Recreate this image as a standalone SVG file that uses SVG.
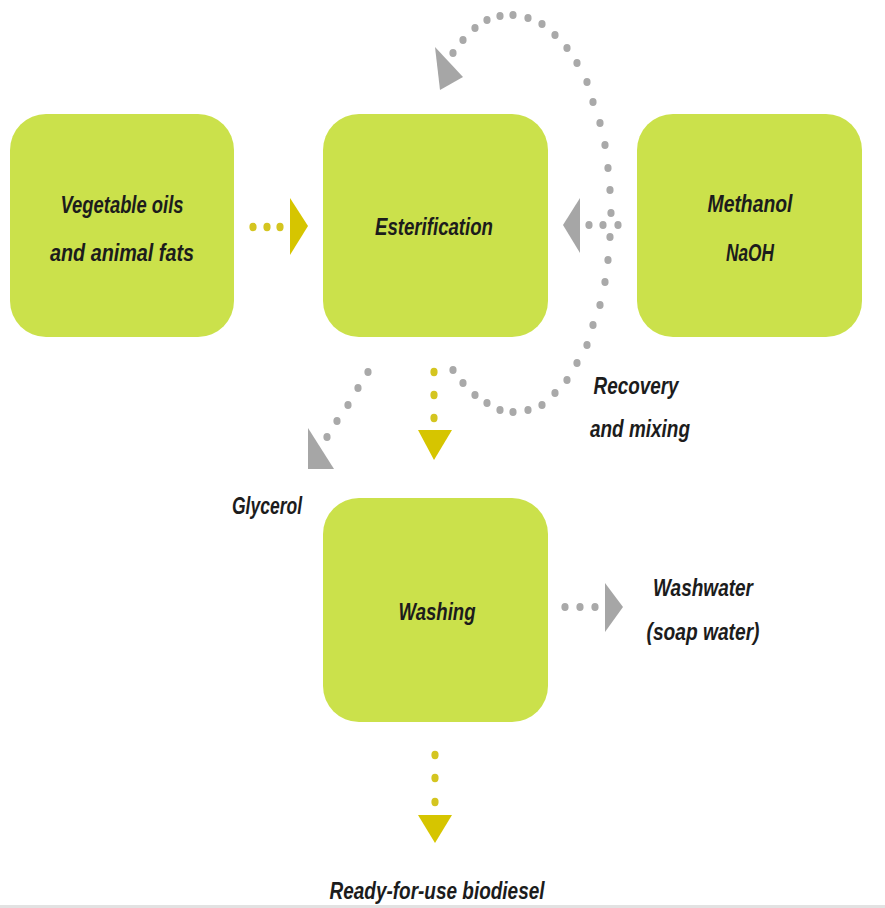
<svg xmlns="http://www.w3.org/2000/svg" width="885" height="908" viewBox="0 0 885 908">
  <style>
    .box { fill: #cbe14b; }
    .lbl { font-family: "Liberation Sans", Arial, sans-serif; font-style: italic; font-weight: bold; font-size: 24px; fill: #1c1c1c; text-anchor: middle; }
    .dots { fill: none; stroke: none; }
    .gy { marker-start: url(#dotG); marker-mid: url(#dotG); marker-end: url(#dotG); }
    .yl { marker-start: url(#dotY); marker-mid: url(#dotY); marker-end: url(#dotY); }
    .headY { fill: #d6c500; }
    .headG { fill: #a6a6a6; }
  </style>
  <defs>
    <marker id="dotG" markerUnits="userSpaceOnUse" markerWidth="10" markerHeight="10" refX="5" refY="5" overflow="visible">
      <ellipse cx="5" cy="5" rx="3.6" ry="4" fill="#a9a9a9"/>
    </marker>
    <marker id="dotY" markerUnits="userSpaceOnUse" markerWidth="10" markerHeight="10" refX="5" refY="5" overflow="visible">
      <ellipse cx="5" cy="5" rx="3.6" ry="4.2" fill="#d4c520"/>
    </marker>
  </defs>
  <rect width="885" height="908" fill="#ffffff"/>

  <g id="connectors">
    <!-- oils -> esterification -->
    <path class="dots yl" d="M253 227 L267 227 L280 227"/>
    <polygon class="headY" points="290,198 308,226 290,255"/>
    <!-- methanol -> esterification -->
    <path class="dots gy" d="M589 225 L603 225 L618 225"/>
    <polygon class="headG" points="580,198 563,225 580,253"/>
    <!-- recovery and mixing loop -->
    <path class="dots gy" d="M453 370 L463 383 L475 395 L487 403 L500 410 L513 412 L528 410 L542 405 L555 393 L567 380 L577 363 L587 345 L593 325 L600 305 L605 282 L608 260 L610 237 L611 213 L610 190 L608 168 L605 145 L600 123 L593 102 L587 82 L577 63 L567 48 L555 35 L542 24 L528 18 L513 15 L500 16 L487 20 L475 28 L463 40 L453 53"/>
    <polygon class="headG" points="435,47 463,77 440,90"/>
    <!-- esterification -> washing -->
    <path class="dots yl" d="M434 372 L434 395 L434 418"/>
    <polygon class="headY" points="418,430 452,430 434,460"/>
    <!-- glycerol -->
    <path class="dots gy" d="M368 372 L358 388 L348 405 L337 421 L327 437"/>
    <polygon class="headG" points="308,428 308,469 334,469"/>
    <!-- washwater -->
    <path class="dots gy" d="M565 607 L580 607 L595 607"/>
    <polygon class="headG" points="605,583 623,607 605,632"/>
    <!-- washing -> biodiesel -->
    <path class="dots yl" d="M435 755 L435 778 L435 802"/>
    <polygon class="headY" points="418,815 452,815 435,843"/>
  </g>

  <g id="node-oils">
    <rect class="box" x="10" y="114" width="224" height="223" rx="36"/>
    <text class="lbl" x="122" y="213" textLength="123" lengthAdjust="spacingAndGlyphs">Vegetable oils</text>
    <text class="lbl" x="122" y="261" textLength="144" lengthAdjust="spacingAndGlyphs">and animal fats</text>
  </g>
  <g id="node-esterification">
    <rect class="box" x="323" y="114" width="225" height="223" rx="36"/>
    <text class="lbl" x="434" y="235" textLength="118" lengthAdjust="spacingAndGlyphs">Esterification</text>
  </g>
  <g id="node-methanol">
    <rect class="box" x="637" y="114" width="225" height="223" rx="36"/>
    <text class="lbl" x="750" y="212" textLength="85" lengthAdjust="spacingAndGlyphs">Methanol</text>
    <text class="lbl" x="750" y="261" textLength="48" lengthAdjust="spacingAndGlyphs">NaOH</text>
  </g>
  <g id="node-washing">
    <rect class="box" x="323" y="498" width="225" height="224" rx="36"/>
    <text class="lbl" x="437" y="620" textLength="77" lengthAdjust="spacingAndGlyphs">Washing</text>
  </g>

  <g id="label-recovery">
    <text class="lbl" x="636" y="394" textLength="85" lengthAdjust="spacingAndGlyphs">Recovery</text>
    <text class="lbl" x="640" y="437" textLength="100" lengthAdjust="spacingAndGlyphs">and mixing</text>
  </g>
  <g id="label-glycerol">
    <text class="lbl" x="267" y="514" textLength="70" lengthAdjust="spacingAndGlyphs">Glycerol</text>
  </g>
  <g id="label-washwater">
    <text class="lbl" x="703" y="596" textLength="100" lengthAdjust="spacingAndGlyphs">Washwater</text>
    <text class="lbl" x="703" y="640" textLength="113" lengthAdjust="spacingAndGlyphs">(soap water)</text>
  </g>
  <g id="label-biodiesel">
    <text class="lbl" x="437" y="899" textLength="215" lengthAdjust="spacingAndGlyphs">Ready-for-use biodiesel</text>
  </g>

  <rect x="0" y="905" width="885" height="3" fill="#e2e2e2"/>
</svg>
